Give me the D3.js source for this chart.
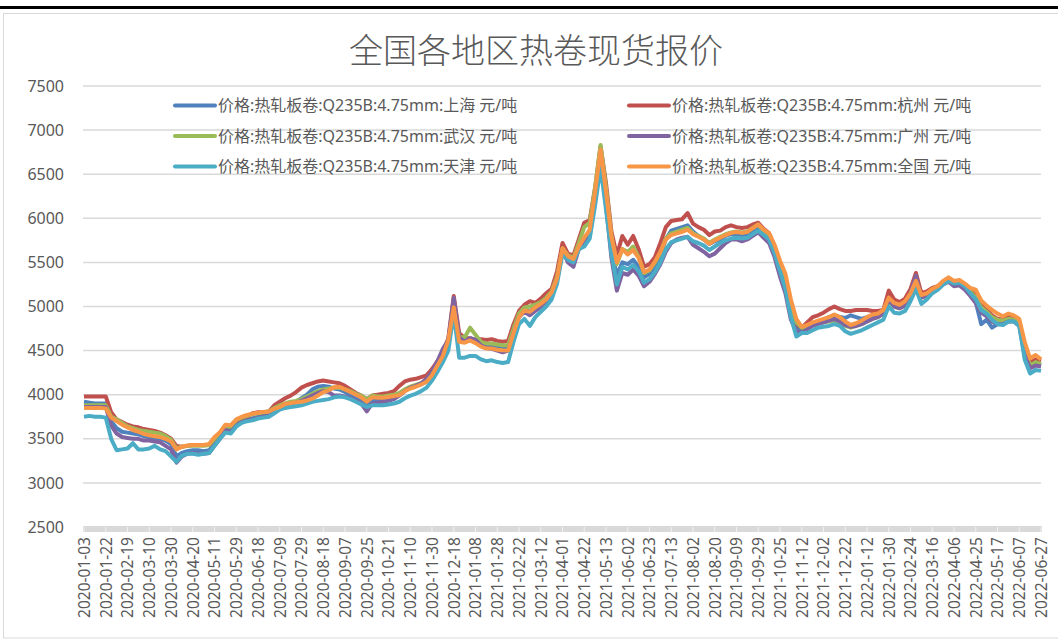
<!DOCTYPE html>
<html>
<head>
<meta charset="utf-8">
<script src="https://cdn.jsdelivr.net/npm/d3@7"></script>
<style>
  body { margin: 0; background: #fff; }
  svg text { font-family: "Noto Sans", "Noto Sans CJK SC", sans-serif; fill: #595959; }
</style>
</head>
<body>
<svg id="chart" width="1058" height="640"></svg>
<script>
// category labels shown on the axis (one every 4 samples)
var tickLabels = [
  "2020-01-03", "2020-01-22", "2020-02-19", "2020-03-10", "2020-03-30", "2020-04-20",
  "2020-05-11", "2020-05-29", "2020-06-18", "2020-07-09", "2020-07-29", "2020-08-18",
  "2020-09-07", "2020-09-25", "2020-10-21", "2020-11-10", "2020-11-30", "2020-12-18",
  "2021-01-08", "2021-01-28", "2021-02-22", "2021-03-12", "2021-04-01", "2021-04-22",
  "2021-05-13", "2021-06-02", "2021-06-23", "2021-07-13", "2021-08-02", "2021-08-20",
  "2021-09-09", "2021-09-29", "2021-10-25", "2021-11-12", "2021-12-02", "2021-12-22",
  "2022-01-12", "2022-01-30", "2022-02-24", "2022-03-16", "2022-04-06", "2022-04-25",
  "2022-05-17", "2022-06-07", "2022-06-27"
];
var stepsPerLabel = 4;

var yTicks = [2500, 3000, 3500, 4000, 4500, 5000, 5500, 6000, 6500, 7000, 7500];

var seriesNames = [
  "价格:热轧板卷:Q235B:4.75mm:上海 元/吨",
  "价格:热轧板卷:Q235B:4.75mm:杭州 元/吨",
  "价格:热轧板卷:Q235B:4.75mm:武汉 元/吨",
  "价格:热轧板卷:Q235B:4.75mm:广州 元/吨",
  "价格:热轧板卷:Q235B:4.75mm:天津 元/吨",
  "价格:热轧板卷:Q235B:4.75mm:全国 元/吨"
];

var shanghai = [
  3920, 3910, 3900, 3900, 3900, 3700, 3620, 3580, 3570, 3560, 3550, 3530, 3520, 3510, 3500, 3480,
  3440, 3300, 3340, 3360, 3370, 3370, 3360, 3370, 3440, 3530, 3620, 3600, 3680, 3700, 3720, 3730,
  3750, 3760, 3770, 3820, 3860, 3880, 3900, 3920, 3960, 4000, 4060, 4090, 4100, 4090,
  4070, 4060, 4030, 4000, 3960, 3930, 3880, 3930, 3930, 3930, 3940, 3960, 4000, 4050, 4080, 4100,
  4120, 4150, 4230, 4340, 4460, 4600, 5050, 4650, 4600, 4620, 4600, 4570, 4550, 4560, 4550, 4540,
  4540, 4730, 4900, 4960, 4950, 4990, 5030, 5080, 5150, 5320, 5650, 5560, 5520, 5700,
  5760, 5860, 6250, 6700, 6200, 5650, 5350, 5500, 5480, 5530, 5450, 5330, 5370, 5450, 5580, 5760,
  5860, 5880, 5900, 5920, 5850, 5800, 5760, 5710, 5740, 5760, 5800, 5820, 5820, 5810, 5820, 5860,
  5890, 5830, 5780, 5620, 5420, 5250, 4950, 4780, 4720,
  4760, 4800, 4830, 4850, 4880, 4900, 4880, 4870, 4900, 4880, 4860, 4880, 4900, 4920, 4950, 5120,
  5030, 5010, 5040, 5170, 5330, 5120, 5150, 5200, 5220, 5270, 5300, 5260, 5260, 5220, 5150, 5050,
  4800, 4850, 4760, 4800, 4820, 4860, 4850, 4800, 4500, 4330, 4350, 4330
];

var hangzhou = [
  3980, 3980, 3980, 3980, 3980, 3800, 3720, 3690, 3660, 3640, 3630, 3610, 3600, 3590, 3570, 3540,
  3500, 3420, 3410, 3420, 3430, 3430, 3430, 3430, 3500, 3560, 3640, 3640, 3700, 3730, 3750, 3790,
  3800, 3800, 3810, 3880, 3920, 3960, 3990, 4030, 4080, 4110, 4130, 4150, 4160, 4150,
  4140, 4130, 4100, 4060, 4020, 3990, 3950, 3990, 4000, 4010, 4020, 4040, 4100, 4150, 4170, 4180,
  4200, 4220, 4290, 4380, 4480, 4640, 5120, 4700, 4640, 4640, 4620, 4630, 4620, 4630, 4610, 4600,
  4610, 4800, 4950, 5020, 5060, 5040, 5090, 5150, 5200, 5400, 5720, 5600, 5580, 5760,
  5950, 5980, 6350, 6820, 6400, 5850, 5580, 5800, 5700, 5800, 5650, 5450, 5480, 5560, 5720, 5900,
  5970, 5980, 5990, 6060, 5940, 5900, 5870, 5810, 5850, 5860, 5900, 5920, 5900, 5890, 5900, 5930,
  5950, 5880, 5830, 5680, 5480, 5300, 5000, 4800, 4760,
  4820, 4880, 4900, 4930, 4970, 5000, 4970, 4950, 4950, 4960, 4960, 4960, 4950, 4950, 4960, 5180,
  5080, 5050, 5090, 5200, 5380, 5150, 5170, 5210, 5230, 5280, 5310, 5270, 5280, 5240, 5180, 5130,
  5020, 4960, 4900, 4860, 4850, 4880, 4870, 4830, 4550, 4370, 4400, 4380
];

var wuhan = [
  3880, 3880, 3880, 3880, 3880, 3750, 3720, 3680, 3640, 3620, 3600, 3590, 3580, 3570, 3560, 3530,
  3490, 3390, 3410, 3420, 3420, 3420, 3420, 3430, 3500, 3560, 3640, 3640, 3710, 3740, 3760, 3780,
  3790, 3800, 3810, 3850, 3880, 3900, 3920, 3930, 3950, 3980, 4010, 4040, 4060, 4070,
  4080, 4080, 4060, 4040, 4010, 3990, 3950, 3990, 3980, 3980, 3990, 4000, 4020, 4060, 4090, 4110,
  4130, 4160, 4240, 4350, 4460, 4600, 5000, 4650, 4650, 4760, 4680, 4600, 4580, 4580, 4570, 4560,
  4560, 4750, 4920, 4990, 5000, 5020, 5050, 5100, 5170, 5340, 5660, 5580, 5550, 5720,
  5900, 5950, 6350, 6830, 6350, 5800, 5480, 5650, 5620, 5680, 5560, 5380, 5410, 5500, 5610, 5770,
  5830, 5850, 5870, 5890, 5830, 5800, 5770, 5720, 5760, 5790, 5820, 5840, 5850, 5840, 5850, 5890,
  5930, 5860, 5810, 5670, 5470, 5300, 5000, 4820, 4760,
  4770, 4790, 4820, 4820, 4830, 4840, 4800, 4780, 4760, 4780, 4800, 4830, 4860, 4880, 4920, 5060,
  5000, 4980, 5020, 5120, 5250, 5100, 5130, 5180, 5210, 5260, 5290, 5250, 5260, 5220, 5170, 5100,
  4990, 4940, 4880, 4850, 4840, 4860, 4850, 4810, 4520, 4330, 4370, 4350
];

var guangzhou = [
  3860, 3860, 3860, 3860, 3860, 3650, 3560, 3520, 3510, 3500, 3500, 3480, 3480, 3470, 3460, 3420,
  3380, 3230, 3300, 3330, 3340, 3330, 3330, 3340, 3420, 3500, 3600, 3570, 3650, 3690, 3710, 3720,
  3740, 3750, 3760, 3810, 3850, 3880, 3900, 3910, 3930, 3960, 3990, 4020, 4040, 4030,
  3990, 3990, 3980, 3960, 3930, 3900, 3810, 3900, 3910, 3920, 3930, 3950, 3990, 4040, 4080, 4100,
  4130, 4180, 4260, 4380, 4520, 4620, 5100, 4650, 4600, 4640, 4620, 4560, 4530, 4520, 4500, 4480,
  4500, 4700, 4880, 4940, 4900, 4950, 4990, 5040, 5120, 5300, 5630, 5500, 5450, 5650,
  5700, 5800, 6200, 6650, 6150, 5550, 5180, 5380, 5360, 5420, 5350, 5230, 5280, 5370, 5480, 5620,
  5720, 5760, 5780, 5790, 5700, 5660, 5620, 5570, 5600, 5660, 5720, 5760, 5760, 5740, 5760, 5800,
  5840, 5780, 5720, 5560, 5340, 5150, 4850, 4720, 4700,
  4740, 4780, 4800, 4820, 4840, 4860, 4830, 4790, 4770, 4780, 4800, 4830, 4860, 4880, 4920, 5080,
  5000, 4980, 5010, 5160, 5350, 5100, 5120, 5180, 5200, 5250, 5280, 5230, 5240, 5190, 5120, 5040,
  4930, 4890, 4830, 4800, 4800, 4830, 4830, 4780, 4450, 4300, 4330, 4320
];

var tianjin = [
  3750, 3760, 3750, 3750, 3740, 3500, 3370, 3380, 3390, 3450, 3380, 3380, 3390, 3420, 3380, 3360,
  3300, 3240, 3310, 3330, 3330, 3320, 3330, 3340, 3420, 3500, 3570, 3560, 3640, 3680, 3700, 3710,
  3730, 3740, 3750, 3790, 3830, 3850, 3860, 3870, 3880, 3900, 3920, 3930, 3940, 3950,
  3970, 3980, 3970, 3950, 3920, 3890, 3860, 3880, 3880, 3880, 3890, 3900, 3920, 3960, 3990, 4010,
  4040, 4080, 4160, 4260, 4370, 4500, 4930, 4420, 4420, 4440, 4440, 4400, 4380, 4390, 4370, 4360,
  4370, 4600, 4800, 4860, 4780, 4880, 4940, 5000, 5080, 5260, 5600, 5530, 5500, 5650,
  5680, 5770, 6150, 6580, 6100, 5600, 5250, 5450, 5420, 5470, 5400, 5270, 5310, 5390, 5500, 5650,
  5730, 5750, 5770, 5790, 5740, 5720, 5690, 5640, 5680, 5720, 5750, 5770, 5780, 5770, 5780, 5820,
  5860, 5810, 5760, 5600, 5400, 5200, 4880, 4660, 4700,
  4700, 4730, 4760, 4770, 4780, 4800, 4780, 4720, 4690, 4710, 4730, 4760, 4790, 4820, 4850, 5000,
  4930, 4920, 4950, 5060, 5200, 5030, 5080, 5150, 5190, 5250, 5290, 5260, 5270, 5230, 5150, 5080,
  4960, 4920, 4850, 4800, 4790, 4830, 4830, 4780, 4400, 4240, 4280, 4270
];

var national = [
  3850, 3850, 3850, 3850, 3845, 3740, 3700, 3660, 3630, 3600, 3580, 3555, 3540, 3530, 3520, 3500,
  3470, 3380, 3410, 3425, 3430, 3430, 3430, 3440, 3520, 3575, 3660, 3655, 3720, 3750, 3770, 3785,
  3795, 3805, 3810, 3840, 3860, 3895, 3905, 3915, 3920, 3935, 3955, 3990, 4030, 4050,
  4085, 4090, 4060, 4030, 4000, 3970, 3920, 3970, 3965, 3965, 3975, 3985, 3995, 4040, 4070, 4090,
  4115, 4147, 4220, 4330, 4440, 4620, 4990, 4600, 4590, 4615, 4585, 4545, 4523, 4523, 4510, 4504,
  4500, 4700, 4880, 4955, 4940, 4990, 5030, 5080, 5160, 5320, 5660, 5570, 5540, 5680,
  5780, 5870, 6300, 6780, 6300, 5790, 5500, 5650, 5590, 5640, 5550, 5390, 5420, 5510, 5620, 5760,
  5810, 5830, 5845, 5870, 5820, 5790, 5760, 5710, 5750, 5780, 5810, 5835, 5845, 5835, 5845, 5890,
  5930, 5870, 5830, 5700, 5520, 5370, 5080, 4860, 4770,
  4790, 4820, 4840, 4860, 4880, 4910, 4880, 4830, 4790, 4810, 4840, 4880, 4910, 4920, 4960, 5100,
  5040, 5020, 5060, 5150, 5290, 5130, 5150, 5200, 5230, 5290, 5330, 5290, 5300, 5260, 5210, 5190,
  5070, 5010, 4960, 4920, 4890, 4920, 4900, 4860, 4600, 4410, 4450, 4400
];

var seriesValues = [shanghai, hangzhou, wuhan, guangzhou, tianjin, national];
var colors = ["#4F81BD", "#C0504D", "#9BBB59", "#8064A2", "#4BACC6", "#F79646"];

var svg = d3.select("#chart");
var plot = { left: 84, right: 1041, top: 86, bottom: 527 };

// frame of the chart area
svg.append("rect")
  .attr("x", 3.5).attr("y", 13.5)
  .attr("width", 1070).attr("height", 624.5)
  .attr("fill", "none")
  .attr("stroke", "#d9d9d9")
  .attr("stroke-width", 1);

svg.append("line")
  .attr("x1", 0).attr("x2", 1058)
  .attr("y1", 7.5).attr("y2", 7.5)
  .attr("stroke", "#000")
  .attr("stroke-width", 3);

var x = d3.scaleLinear()
  .domain([0, (tickLabels.length - 1) * stepsPerLabel])
  .range([plot.left, plot.right]);

var y = d3.scaleLinear()
  .domain([2500, 7500])
  .range([plot.bottom, plot.top]);

// horizontal gridlines
svg.append("g")
  .selectAll("line")
  .data(yTicks.slice(1))
  .enter()
  .append("line")
  .attr("x1", plot.left - 1)
  .attr("x2", plot.right)
  .attr("y1", function(d) { return y(d); })
  .attr("y2", function(d) { return y(d); })
  .attr("stroke", "#d9d9d9")
  .attr("stroke-width", 1.5);

// y labels
svg.append("g")
  .selectAll("text")
  .data(yTicks)
  .enter()
  .append("text")
  .attr("x", 64)
  .attr("y", function(d) { return y(d); })
  .attr("dy", "0.35em")
  .attr("text-anchor", "end")
  .style("font-size", "16px")
  .text(function(d) { return d; });

// x axis band
svg.append("rect")
  .attr("x", plot.left - 1)
  .attr("y", plot.bottom - 1)
  .attr("width", plot.right - plot.left + 2)
  .attr("height", 6)
  .attr("fill", "#d9d9d9");

var labelIdx = d3.range(tickLabels.length).map(function(k) { return k * stepsPerLabel; });

svg.append("g")
  .selectAll("line")
  .data(labelIdx)
  .enter()
  .append("line")
  .attr("x1", function(d) { return x(d); })
  .attr("x2", function(d) { return x(d); })
  .attr("y1", plot.bottom)
  .attr("y2", plot.bottom + 5)
  .attr("stroke", "#f0f0f0")
  .attr("stroke-width", 1);

var xAxis = svg.append("g")
  .attr("transform", "translate(0," + plot.bottom + ")")
  .call(d3.axisBottom(x)
    .tickValues(labelIdx)
    .tickFormat(function(d) { return tickLabels[d / stepsPerLabel]; })
    .tickSize(0)
    .tickPadding(0));

xAxis.select(".domain").remove();
xAxis.selectAll("text")
  .attr("transform", "rotate(-90)")
  .attr("text-anchor", "end")
  .attr("x", -10)
  .attr("y", 0)
  .attr("dy", "0.35em")
  .style("font-size", "15.5px");

// series lines
var line = d3.line()
  .x(function(d, i) { return x(i); })
  .y(function(d) { return y(d); });

svg.append("g")
  .selectAll("path")
  .data(seriesValues)
  .enter()
  .append("path")
  .attr("d", line)
  .attr("fill", "none")
  .attr("stroke", function(d, i) { return colors[i]; })
  .attr("stroke-width", 4)
  .attr("stroke-linejoin", "round");

// legend, two columns
var legend = svg.append("g");
var legendItem = legend.selectAll(".legend-item")
  .data(seriesNames)
  .enter()
  .append("g")
  .classed("legend-item", true)
  .attr("transform", function(d, i) {
    var col = i % 2, row = Math.floor(i / 2);
    return "translate(" + (col === 0 ? 175 : 629) + "," + (105.5 + row * 30.5) + ")";
  });

legendItem.append("line")
  .attr("x1", 0).attr("x2", 40)
  .attr("y1", 0).attr("y2", 0)
  .attr("stroke", function(d, i) { return colors[i]; })
  .attr("stroke-width", 4)
  .attr("stroke-linecap", "round");

legendItem.append("text")
  .attr("x", 43)
  .attr("dy", "0.35em")
  .style("font-size", "16px")
  .text(function(d) { return d; });

// title
svg.append("text")
  .attr("x", 536)
  .attr("y", 63)
  .attr("text-anchor", "middle")
  .style("font-family", "'Noto Sans CJK SC', sans-serif")
  .style("font-weight", "300")
  .style("font-size", "34px")
  .text("全国各地区热卷现货报价");
</script>
</body>
</html>
